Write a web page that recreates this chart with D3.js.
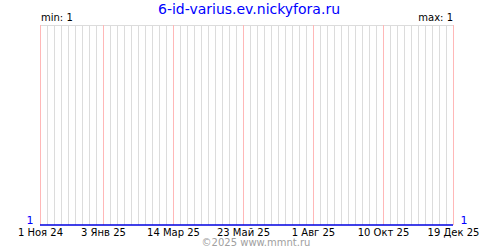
<!DOCTYPE html>
<html>
<head>
<meta charset="utf-8">
<script src="https://cdn.jsdelivr.net/npm/d3@7"></script>
<style>
  body { margin: 0; background: #fff; }
  svg { display: block; font-family: "DejaVu Sans", Verdana, sans-serif; }
</style>
</head>
<body>
<div id="chart"></div>
<script>
// Data
const title = "6-id-varius.ev.nickyfora.ru";
const footer = "©2025 www.mmnt.ru";
const seriesDates = ["2024-11-01", "2025-12-19"];
const seriesValues = [1, 1];
const tickDates = ["2024-11-01", "2025-01-03", "2025-03-14", "2025-05-23", "2025-08-01", "2025-10-10", "2025-12-19"];
const tickLabels = ["1 Ноя 24", "3 Янв 25", "14 Мар 25", "23 Май 25", "1 Авг 25", "10 Окт 25", "19 Дек 25"];

const parse = d3.utcParse("%Y-%m-%d");
const data = seriesDates.map((d, i) => ({ date: parse(d), value: seriesValues[i] }));
const ticks = tickDates.map((d, i) => ({ date: parse(d), label: tickLabels[i] }));

const width = 500, height = 250;
const margin = { top: 25, right: 47, bottom: 25, left: 40 };

const svg = d3.select("#chart").append("svg")
  .attr("width", width)
  .attr("height", height);

const minV = d3.min(seriesValues), maxV = d3.max(seriesValues);

const x = d3.scaleUtc()
  .domain(d3.extent(data, d => d.date))
  .range([margin.left, width - margin.right]);

const y = d3.scaleLinear()
  .domain([minV, maxV === minV ? minV + 1 : maxV])
  .range([height - margin.bottom, margin.top]);

// Weekly grid lines
const start = x.domain()[0], end = x.domain()[1];
const weeks = d3.utcDay.range(start, d3.utcDay.offset(end, 1)).filter((d, i) => i % 7 === 0);

svg.append("g")
  .selectAll("line")
  .data(weeks)
  .join("line")
  .attr("x1", d => Math.round(x(d)) + 0.5)
  .attr("x2", d => Math.round(x(d)) + 0.5)
  .attr("y1", margin.top)
  .attr("y2", height - margin.bottom)
  .style("stroke", "#dcdcdc")
  .style("stroke-width", "1px");

// Top border
svg.append("line")
  .attr("x1", margin.left)
  .attr("x2", width - margin.right + 1)
  .attr("y1", margin.top + 0.5)
  .attr("y2", margin.top + 0.5)
  .style("stroke", "#dcdcdc");

// Label grid lines (pink)
svg.append("g")
  .selectAll("line")
  .data(ticks)
  .join("line")
  .attr("x1", d => Math.round(x(d.date)) + 0.5)
  .attr("x2", d => Math.round(x(d.date)) + 0.5)
  .attr("y1", margin.top)
  .attr("y2", height - margin.bottom)
  .style("stroke", "#ffb8b8")
  .style("stroke-width", "1px");

// Tick labels
svg.append("g")
  .selectAll("text")
  .data(ticks)
  .join("text")
  .attr("x", d => x(d.date) + 0.5)
  .attr("y", 236)
  .attr("text-anchor", "middle")
  .style("font-size", "10px")
  .style("fill", "#000")
  .text(d => d.label);

// Series line
const line = d3.line()
  .x(d => x(d.date))
  .y(d => y(d.value));

svg.append("path")
  .datum(data)
  .attr("d", line)
  .style("fill", "none")
  .style("stroke", "#0000e0")
  .style("stroke-width", "1.5px");

// Value labels at both ends
svg.append("text")
  .attr("x", 30)
  .attr("y", y(data[0].value) - 1)
  .attr("text-anchor", "middle")
  .style("font-size", "11px")
  .style("fill", "#0000ff")
  .text(data[0].value);

svg.append("text")
  .attr("x", 464)
  .attr("y", y(data[data.length - 1].value) - 1)
  .attr("text-anchor", "middle")
  .style("font-size", "11px")
  .style("fill", "#0000ff")
  .text(data[data.length - 1].value);

// min / max
svg.append("text")
  .attr("x", margin.left + 1)
  .attr("y", 21)
  .style("font-size", "10px")
  .text("min: " + minV);

svg.append("text")
  .attr("x", width - margin.right)
  .attr("y", 21)
  .attr("text-anchor", "end")
  .style("font-size", "10px")
  .text("max: " + maxV);

// Title
svg.append("text")
  .attr("x", 249)
  .attr("y", 14)
  .attr("text-anchor", "middle")
  .style("font-size", "14px")
  .style("fill", "#0000ff")
  .text(title);

// Footer
svg.append("text")
  .attr("x", 256)
  .attr("y", 246)
  .attr("text-anchor", "middle")
  .style("font-size", "10px")
  .style("fill", "#a0a0a0")
  .text(footer);
</script>
</body>
</html>
